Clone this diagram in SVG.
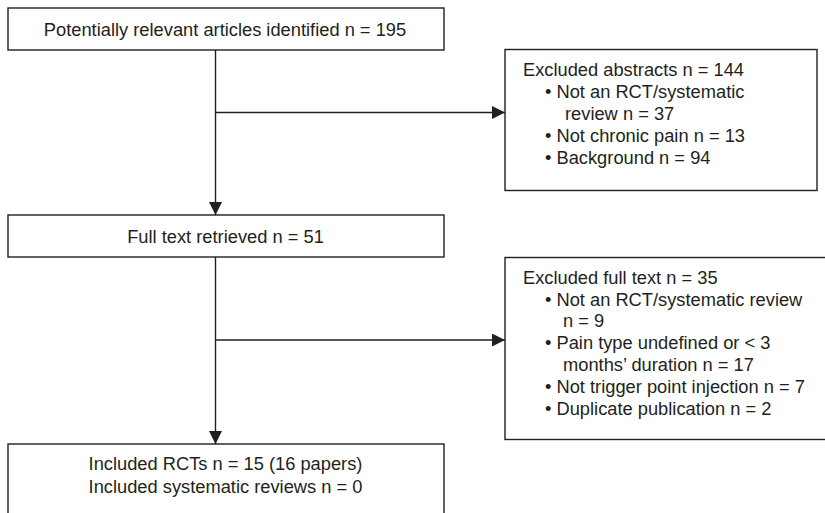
<svg xmlns="http://www.w3.org/2000/svg" width="825" height="513" viewBox="0 0 825 513">
<defs>
<style>
.box{fill:#fff;stroke:#231f20;stroke-width:1.4}
.t{font-family:"Liberation Sans",Arial,sans-serif;font-size:18.3px;fill:#231f20}
.c{text-anchor:middle}
.ln{stroke:#231f20;stroke-width:1.4;fill:none}
</style>
<marker id="ah" markerWidth="13" markerHeight="13" refX="13" refY="6.5" orient="auto" markerUnits="userSpaceOnUse">
<path d="M0,0 L13,6.5 L0,13 Z" fill="#231f20"/>
</marker>
</defs>
<rect width="825" height="513" fill="#fff"/>
<g id="connectors">
<line class="ln" x1="215.5" y1="50" x2="215.5" y2="215" marker-end="url(#ah)"/>
<line class="ln" x1="215.5" y1="112.5" x2="505" y2="112.5" marker-end="url(#ah)"/>
<line class="ln" x1="215.5" y1="257" x2="215.5" y2="444" marker-end="url(#ah)"/>
<line class="ln" x1="215.5" y1="340" x2="505" y2="340" marker-end="url(#ah)"/>
</g>
<g id="identified">
<rect class="box" x="8" y="8" width="436" height="42"/>
<text class="t c" x="225" y="35.5">Potentially relevant articles identified n = 195</text>
</g>
<g id="excluded-abstracts">
<rect class="box" x="505" y="49.5" width="312" height="141"/>
<text class="t" x="523" y="76">Excluded abstracts n = 144</text>
<text class="t" x="545" y="98">• Not an RCT/systematic</text>
<text class="t" x="565" y="120">review n = 37</text>
<text class="t" x="545" y="142">• Not chronic pain n = 13</text>
<text class="t" x="545" y="164">• Background n = 94</text>
</g>
<g id="full-text">
<rect class="box" x="8" y="215" width="436" height="42"/>
<text class="t c" x="225.5" y="242.5">Full text retrieved n = 51</text>
</g>
<g id="excluded-full-text">
<rect class="box" x="505" y="257.5" width="330" height="182"/>
<text class="t" x="523" y="283.5">Excluded full text n = 35</text>
<text class="t" x="545" y="305.5">• Not an RCT/systematic review</text>
<text class="t" x="563" y="327">n = 9</text>
<text class="t" x="545" y="349">• Pain type undefined or &lt; 3</text>
<text class="t" x="563" y="371">months’ duration n = 17</text>
<text class="t" x="545" y="393">• Not trigger point injection n = 7</text>
<text class="t" x="545" y="415">• Duplicate publication n = 2</text>
</g>
<g id="included">
<rect class="box" x="8" y="444" width="436" height="90"/>
<text class="t c" x="225.5" y="470">Included RCTs n = 15 (16 papers)</text>
<text class="t c" x="225.5" y="492.5">Included systematic reviews n = 0</text>
</g>
</svg>
